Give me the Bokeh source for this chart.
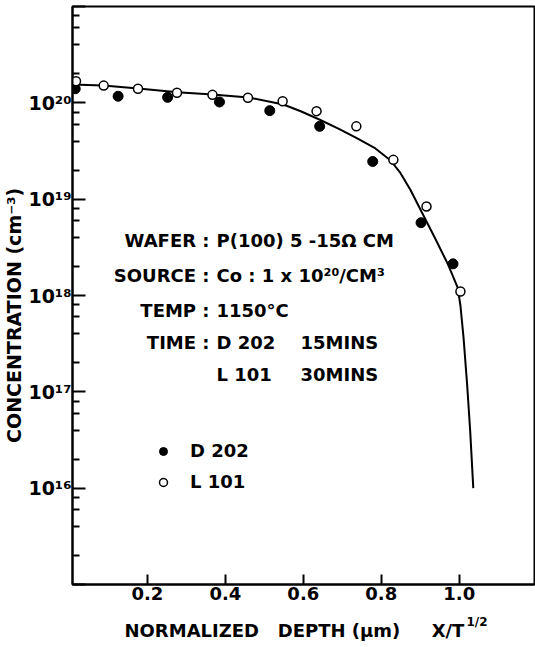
from bokeh.plotting import figure
from bokeh.models import FixedTicker, Label, Legend, LegendItem, Range1d
from bokeh.embed import file_html
from bokeh.resources import INLINE

# Cobalt profile, wafer D 202 (15 min diffusion)
d202_depth = [0.015, 0.125, 0.252, 0.385, 0.514, 0.642, 0.778, 0.902, 0.984]
d202_conc = [1.40e20, 1.17e20, 1.14e20, 1.02e20, 8.3e19, 5.7e19, 2.46e19, 5.7e18, 2.13e18]

# Cobalt profile, wafer L 101 (30 min diffusion)
l101_depth = [0.017, 0.088, 0.176, 0.276, 0.367, 0.458, 0.547, 0.634, 0.736, 0.831, 0.916, 1.003]
l101_conc = [1.68e20, 1.51e20, 1.40e20, 1.27e20, 1.21e20, 1.13e20, 1.04e20, 8.2e19, 5.7e19,
             2.56e19, 8.4e18, 1.10e18]

# Fitted profile through both data sets
fit_depth = [0.0, 0.087, 0.177, 0.277, 0.367, 0.460, 0.549, 0.595, 0.641, 0.690, 0.736,
             0.785, 0.824, 0.849, 0.875, 0.903, 0.937, 0.970, 0.996, 1.003, 1.011, 1.020,
             1.028, 1.036]
fit_conc = [1.55e20, 1.51e20, 1.41e20, 1.29e20, 1.22e20, 1.135e20, 9.6e19, 8.13e19, 6.71e19,
            5.41e19, 4.32e19, 3.36e19, 2.52e19, 1.87e19, 1.245e19, 7.45e18, 4.0e18, 2.15e18,
            1.21e18, 7.87e17, 3.66e17, 1.22e17, 3.96e16, 1.0e16]

# Axis ticks
x_ticks = [0.2, 0.4, 0.6, 0.8, 1.0]
x_tick_labels = ["0.2", "0.4", "0.6", "0.8", "1.0"]
y_exponents = [15, 16, 17, 18, 19, 20, 21]
y_tick_labels = ["", "10¹⁶", "10¹⁷", "10¹⁸", "10¹⁹", "10²⁰", ""]
y_minor_mantissas = [2, 4, 6, 8]

# Process conditions printed on the chart
info_keys = ["WAFER :", "SOURCE :", "TEMP :", "TIME :", ""]
info_values = ["P(100) 5 -15Ω CM", "Co : 1 x 10²⁰/CM³", "1150°C", "D 202", "L 101"]
info_times = ["", "", "", "15MINS", "30MINS"]

NB = "\u00a0"
x_title = "NORMALIZED" + NB * 3 + "DEPTH (μm)" + NB * 5 + "X/T"
x_title_sup = "1/2"
y_title = "CONCENTRATION (cm⁻³)" + NB * 6

FONT = "DejaVu Sans"
FS = "18px"

p = figure(width=535, height=647, y_axis_type="log",
           x_range=Range1d(0.008, 1.193), y_range=Range1d(1e15, 1e21),
           output_backend="svg", toolbar_location=None,
           min_border_left=72, min_border_right=1, min_border_top=6, min_border_bottom=63)
p.background_fill_color = "white"
p.border_fill_color = "white"
p.outline_line_color = "black"
p.outline_line_width = 2
p.xgrid.visible = False
p.ygrid.visible = False

# x axis
xa = p.xaxis[0]
xa.ticker = FixedTicker(ticks=x_ticks, minor_ticks=[])
xa.major_label_overrides = {t: s for t, s in zip(x_ticks, x_tick_labels)}
xa.major_tick_in = 10
xa.major_tick_out = 0
xa.minor_tick_in = 0
xa.minor_tick_out = 0
xa.axis_line_width = 2
xa.major_tick_line_width = 2
xa.major_label_text_font = FONT
xa.major_label_text_font_size = FS
xa.major_label_text_font_style = "bold"
xa.major_label_text_color = "black"
xa.major_label_standoff = 2

# y axis
ya = p.yaxis[0]
y_major = [10.0 ** e for e in y_exponents]
y_minor = [m * 10.0 ** e for e in y_exponents[:-1] for m in y_minor_mantissas]
ya.ticker = FixedTicker(ticks=y_major, minor_ticks=y_minor)
ya.major_label_overrides = {t: s for t, s in zip(y_major, y_tick_labels)}
ya.major_tick_in = 13
ya.major_tick_out = 0
ya.minor_tick_in = 7
ya.minor_tick_out = 0
ya.axis_line_width = 2
ya.major_tick_line_width = 2
ya.minor_tick_line_width = 2
ya.major_label_text_font = FONT
ya.major_label_text_font_size = "19px"
ya.major_label_text_font_style = "bold"
ya.major_label_text_color = "black"
ya.major_label_standoff = 1
ya.axis_label = y_title
ya.axis_label_text_font = FONT
ya.axis_label_text_font_size = "19px"
ya.axis_label_text_font_style = "bold"
ya.axis_label_text_color = "black"
ya.axis_label_standoff = 0

# fitted curve and measured points
p.line(fit_depth, fit_conc, line_color="black", line_width=2)
r_d = p.scatter(d202_depth, d202_conc, marker="circle", size=10,
                fill_color="black", line_color="black")
r_l = p.scatter(l101_depth, l101_conc, marker="circle", size=9,
                fill_color="white", line_color="black", line_width=1.5)

legend = Legend(items=[LegendItem(label="D 202", renderers=[r_d]),
                       LegendItem(label="L 101", renderers=[r_l])],
                location=(81, 92), orientation="vertical",
                background_fill_alpha=0, border_line_alpha=0,
                padding=0, margin=0, spacing=10,
                glyph_height=20, glyph_width=20, label_height=20,
                label_standoff=17, label_text_font=FONT, label_text_font_size=FS,
                label_text_font_style="bold", label_text_color="black")
p.add_layout(legend)

# helper: page pixel position -> frame-relative screen units
FL, FB = 72, 584


def text_label(text, x, y, align="left", size=FS):
    return Label(x=x, y=y, x_units="screen", y_units="screen",
                 text=text, text_align=align, text_baseline="middle",
                 text_font=FONT, text_font_size=size, text_font_style="bold",
                 text_color="black")


rows_y = [240, 275, 310, 342, 374]
for key, val, t, yy in zip(info_keys, info_values, info_times, rows_y):
    if key:
        p.add_layout(text_label(key, 209 - FL, FB - yy, align="right"))
    p.add_layout(text_label(val, 216 - FL, FB - yy))
    if t:
        p.add_layout(text_label(t, 300 - FL, FB - yy))

# x-axis title, placed in the panels below the axis
p.add_layout(text_label(x_title, 124 - FL, -7), "below")
p.add_layout(text_label(x_title_sup, 466 - FL, 16, size="12px"), "below")

open("out.html", "w").write(file_html(p, INLINE))
